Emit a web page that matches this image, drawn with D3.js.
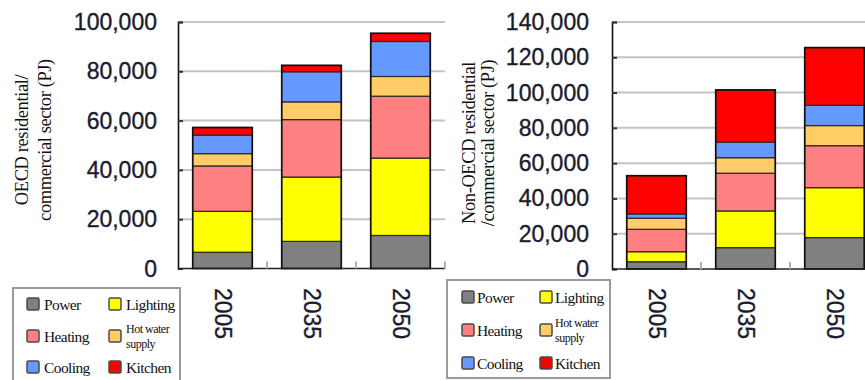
<!DOCTYPE html>
<html>
<head>
<meta charset="utf-8">
<script src="https://cdn.jsdelivr.net/npm/d3@7/dist/d3.min.js"></script>
<style>
  html, body { margin: 0; padding: 0; background: #fff; }
  svg { display: block; }
</style>
</head>
<body>
<svg id="chart" width="865" height="380"></svg>
<script>
// Energy demand by end use, residential/commercial sector (PJ)
const categories = ["2005", "2035", "2050"];
const seriesNames = ["Power", "Lighting", "Heating", "Hot water supply", "Cooling", "Kitchen"];
const seriesColors = ["#808080", "#ffff00", "#ff8080", "#ffcc66", "#6699ff", "#ff0000"];

// OECD
const oecdPower    = [6600, 11000, 13400];
const oecdLighting = [16600, 26100, 31400];
const oecdHeating  = [18400, 23300, 25100];
const oecdHotWater = [5000, 7200, 8000];
const oecdCooling  = [7500, 12200, 14200];
const oecdKitchen  = [3100, 2600, 3300];

// Non-OECD
const nonOecdPower    = [4100, 12100, 17800];
const nonOecdLighting = [5700, 20800, 28300];
const nonOecdHeating  = [12700, 21400, 23800];
const nonOecdHotWater = [6300, 8800, 11400];
const nonOecdCooling  = [2400, 8800, 11500];
const nonOecdKitchen  = [21700, 29600, 32700];

const oecdTicks = [0, 20000, 40000, 60000, 80000, 100000];
const nonOecdTicks = [0, 20000, 40000, 60000, 80000, 100000, 120000, 140000];

const oecdTitle = ["OECD residential/", "commercial sector (PJ)"];
const nonOecdTitle = ["Non-OECD residential", "/commercial sector (PJ)"];

const sansFont = "'Liberation Sans', Arial, Helvetica, sans-serif";
const serifFont = "'Liberation Serif', 'Times New Roman', Times, serif";
const labelColor = "#1b1b30";

const svg = d3.select("#chart");

function rows(series) {
  return categories.map((c, i) => {
    const r = { year: c };
    seriesNames.forEach((s, k) => { r[s] = series[k][i]; });
    return r;
  });
}

function drawPanel(cfg) {
  const g = svg.append("g");
  const data = rows(cfg.series);
  const stacked = d3.stack().keys(seriesNames)(data);

  const x = d3.scaleBand().domain(categories)
    .range([cfg.left, cfg.left + cfg.width])
    .paddingInner(0.33).paddingOuter(0.165);
  const y = d3.scaleLinear().domain([0, cfg.max]).range([cfg.bottom, cfg.top]);

  // gridlines
  g.append("g").selectAll("line").data(cfg.ticks.slice(1)).join("line")
    .attr("x1", cfg.left).attr("x2", cfg.left + cfg.gridWidth)
    .attr("y1", d => y(d)).attr("y2", d => y(d))
    .attr("stroke", "#c4c4c4").attr("stroke-width", 2);

  // y axis with inward ticks
  const yAxis = d3.axisRight(y).tickValues(cfg.ticks).tickSize(5).tickFormat("");
  const ya = g.append("g").attr("transform", `translate(${cfg.left},0)`).call(yAxis);
  ya.select(".domain").attr("stroke", "#111").attr("stroke-width", 1.6);
  ya.selectAll(".tick line").attr("stroke", "#333").attr("stroke-width", 2);

  // y tick labels
  g.append("g").selectAll("text").data(cfg.ticks).join("text")
    .attr("x", cfg.labelRight).attr("y", d => y(d))
    .attr("text-anchor", "end").attr("dominant-baseline", "central")
    .attr("font-family", sansFont).attr("font-size", 23)
    .attr("fill", labelColor).attr("stroke", labelColor).attr("stroke-width", 0.35)
    .text(d3.format(","));

  // bars
  g.append("g").selectAll("g").data(stacked).join("g")
    .attr("fill", (d, i) => seriesColors[i])
    .selectAll("rect").data(d => d).join("rect")
    .attr("x", d => x(d.data.year))
    .attr("width", x.bandwidth())
    .attr("y", d => y(d[1]))
    .attr("height", d => y(d[0]) - y(d[1]))
    .attr("stroke", "#2a2a2a").attr("stroke-width", 1.2);

  // bar outlines
  g.append("g").selectAll("rect").data(data).join("rect")
    .attr("x", d => x(d.year)).attr("width", x.bandwidth())
    .attr("y", d => y(d3.sum(seriesNames, s => d[s])))
    .attr("height", d => cfg.bottom - y(d3.sum(seriesNames, s => d[s])))
    .attr("fill", "none").attr("stroke", "#111").attr("stroke-width", 1.6);

  // x axis baseline and small separators between categories
  g.append("line")
    .attr("x1", cfg.left).attr("x2", cfg.left + cfg.gridWidth)
    .attr("y1", cfg.bottom).attr("y2", cfg.bottom)
    .attr("stroke", "#222").attr("stroke-width", 1.6);
  const step = x.step();
  g.append("g").selectAll("line").data(d3.range(1, categories.length + 1)).join("line")
    .attr("x1", d => cfg.left + d * step).attr("x2", d => cfg.left + d * step)
    .attr("y1", cfg.bottom - 7).attr("y2", cfg.bottom)
    .attr("stroke", "#b0b0b0").attr("stroke-width", 2);

  // year labels, rotated
  g.append("g").selectAll("text").data(categories).join("text")
    .attr("transform", d => `translate(${x(d) + x.bandwidth() / 2},${cfg.yearTop}) rotate(90)`)
    .attr("dominant-baseline", "central")
    .attr("font-family", sansFont).attr("font-size", 23)
    .attr("fill", labelColor).attr("stroke", labelColor).attr("stroke-width", 0.35)
    .text(d => d);

  // axis title
  cfg.title.forEach((line, i) => {
    g.append("text")
      .attr("transform", `translate(${cfg.titleX[i]},${cfg.titleY}) rotate(-90)`)
      .attr("text-anchor", "middle")
      .attr("font-family", serifFont).attr("font-size", 18.5)
      .attr("letter-spacing", -0.4)
      .attr("fill", "#111")
      .text(line);
  });

  // legend
  const L = cfg.legend;
  const lg = g.append("g");
  lg.append("rect")
    .attr("x", L.x).attr("y", L.y).attr("width", L.w).attr("height", L.h)
    .attr("fill", "#fff").attr("stroke", "#9a9a9a").attr("stroke-width", 2);
  seriesNames.forEach((s, i) => {
    const col = i % 2, row = Math.floor(i / 2);
    const cx = L.colX[col], cy = L.rowY[row];
    lg.append("rect")
      .attr("x", cx).attr("y", cy - 6).attr("width", 12).attr("height", 12)
      .attr("rx", 1.5)
      .attr("fill", seriesColors[i]).attr("stroke", "#4a4a4a").attr("stroke-width", 1.5);
    const tx = cx + L.textGap;
    if (s === "Hot water supply") {
      lg.append("text").attr("x", tx).attr("y", cy - 7)
        .attr("dominant-baseline", "central")
        .attr("font-family", serifFont).attr("font-size", 12).attr("letter-spacing", -0.5)
        .attr("fill", "#111").text("Hot water");
      lg.append("text").attr("x", tx).attr("y", cy + 8)
        .attr("dominant-baseline", "central")
        .attr("font-family", serifFont).attr("font-size", 12).attr("letter-spacing", -0.5)
        .attr("fill", "#111").text("supply");
    } else {
      lg.append("text").attr("x", tx).attr("y", cy)
        .attr("dominant-baseline", "central")
        .attr("font-family", serifFont).attr("font-size", 15.5).attr("letter-spacing", -0.6)
        .attr("fill", "#111").text(s);
    }
  });
}

drawPanel({
  series: [oecdPower, oecdLighting, oecdHeating, oecdHotWater, oecdCooling, oecdKitchen],
  ticks: oecdTicks, max: 100000,
  left: 178, width: 267, gridWidth: 267, top: 22, bottom: 268.5,
  labelRight: 157, yearTop: 288,
  title: oecdTitle, titleX: [28, 51], titleY: 140,
  legend: { x: 13, y: 288, w: 167, h: 110, colX: [27, 109], rowY: [304, 336, 367], textGap: 17 }
});

drawPanel({
  series: [nonOecdPower, nonOecdLighting, nonOecdHeating, nonOecdHotWater, nonOecdCooling, nonOecdKitchen],
  ticks: nonOecdTicks, max: 140000,
  left: 612, width: 267, gridWidth: 260, top: 22, bottom: 269,
  labelRight: 589, yearTop: 288,
  title: nonOecdTitle, titleX: [475, 494], titleY: 143,
  legend: { x: 447, y: 280, w: 163, h: 98, colX: [462, 540], rowY: [297, 330, 363], textGap: 15 }
});
</script>
</body>
</html>
